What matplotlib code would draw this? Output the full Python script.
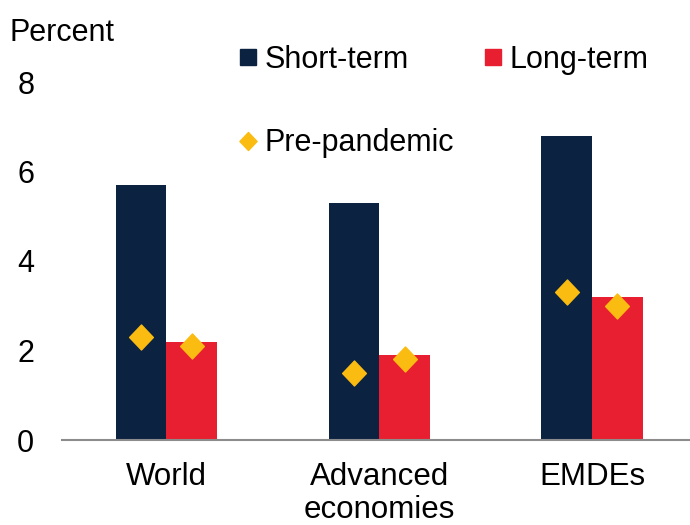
import matplotlib
matplotlib.use("Agg")
import matplotlib.pyplot as plt
import numpy as np
from matplotlib.lines import Line2D
from matplotlib.path import Path

plt.rcParams['font.family'] = ['Liberation Sans', 'DejaVu Sans']

categories = ["World", "Advanced\neconomies", "EMDEs"]
short_term = [5.7, 5.3, 6.8]
long_term = [2.2, 1.9, 3.2]
pre_short = [2.3, 1.5, 3.3]
pre_long = [2.1, 1.8, 3.0]

navy = '#0c2241'
red = '#e81f30'
gold = '#fbbc12'

fig = plt.figure(figsize=(6.9, 5.25), dpi=100)
ax = fig.add_axes([62/690, 1-440/525, 1-62/690, (440-82)/525])

x = np.arange(len(categories))
w = 0.238
ax.bar(x - w/2, short_term, width=w, color=navy)
ax.bar(x + w/2, long_term, width=w, color=red)

diamond = Path([(0, 1), (0.95, 0), (0, -1), (-0.95, 0), (0, 1)],
               [Path.MOVETO, Path.LINETO, Path.LINETO, Path.LINETO, Path.CLOSEPOLY])
ax.plot(x - w/2, pre_short, linestyle='none', marker=diamond, markersize=18,
        color=gold, zorder=3)
ax.plot(x + w/2, pre_long, linestyle='none', marker=diamond, markersize=18,
        color=gold, zorder=3)

ax.set_xlim(-0.49, 2.46)
ax.set_ylim(0, 8)
ax.set_yticks([0, 2, 4, 6, 8])
ax.set_xticks(x)
ax.set_xticklabels(categories, fontsize=22.5, linespacing=1.12)
ax.tick_params(axis='y', length=0, labelsize=22, pad=20)
ax.tick_params(axis='x', length=0, pad=16)
for s in ['top', 'right', 'left']:
    ax.spines[s].set_visible(False)
ax.spines['bottom'].set_color('#8c8c8c')
ax.spines['bottom'].set_linewidth(1.5)

fig.text(10/690, 1-33/525, 'Percent', fontsize=22, va='center', ha='left')

handles = [
    Line2D([], [], linestyle='none', marker='s', markersize=11, color=navy),
    Line2D([], [], linestyle='none', marker=diamond, markersize=13, color=gold),
    Line2D([], [], linestyle='none', marker='s', markersize=11, color=red),
]
labels = ['Short-term', 'Pre-pandemic', 'Long-term']
fig.legend(handles, labels, loc='upper left', bbox_to_anchor=(239/690, 1-45/525),
           ncol=2, frameon=False, fontsize=22, handlelength=0.6,
           handletextpad=0.25, labelspacing=1.75, columnspacing=0.95,
           borderaxespad=0, borderpad=0)

fig.savefig('out.png', dpi=100)
